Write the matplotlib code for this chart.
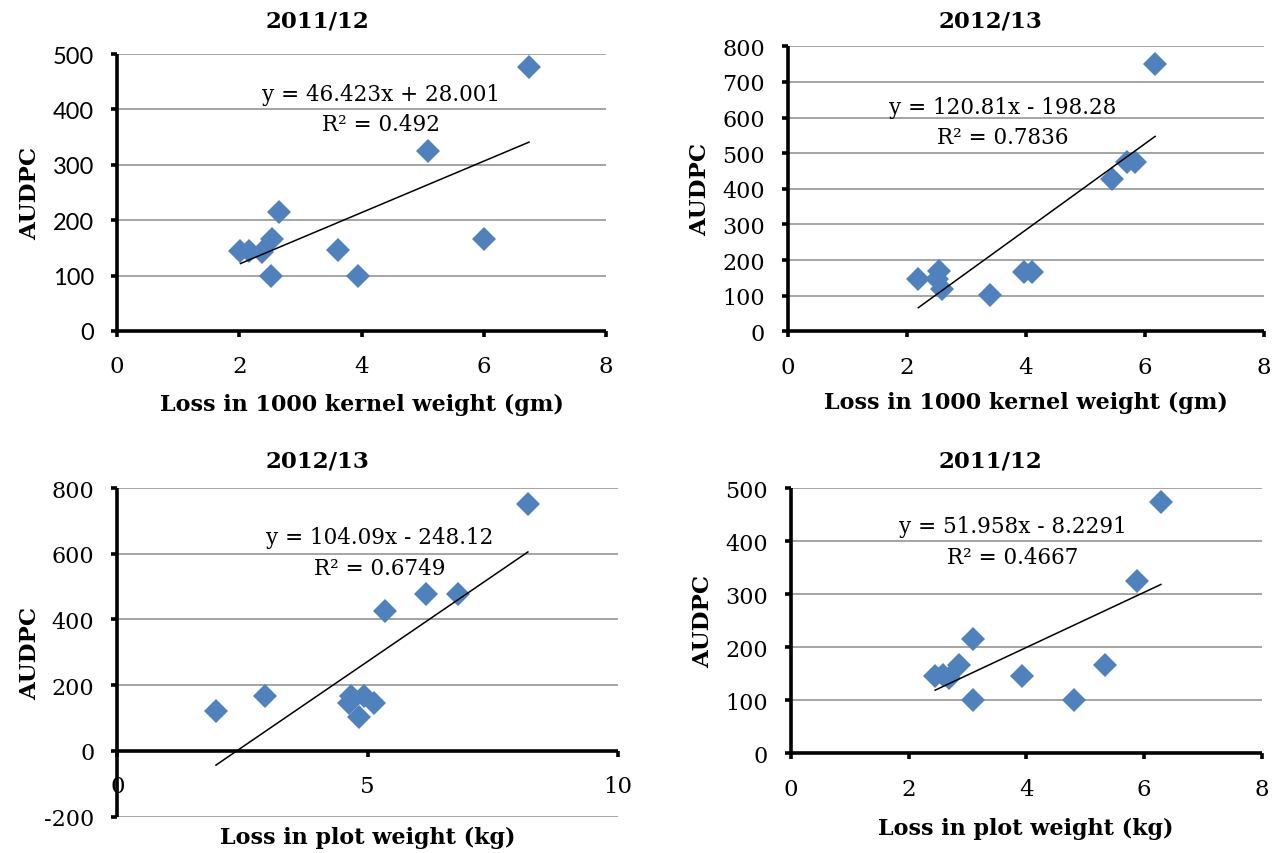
import matplotlib
matplotlib.use("Agg")
import matplotlib.pyplot as plt
import numpy as np

plt.rcParams["axes.unicode_minus"] = False

W, H = 1275, 854

# ---- data ----
titles = ["2011/12", "2012/13", "2012/13", "2011/12"]
xlabels = ["Loss in 1000 kernel weight (gm)", "Loss in 1000 kernel weight (gm)",
           "Loss in plot weight (kg)", "Loss in plot weight (kg)"]
ylabel = "AUDPC"

p1_x = [2.02, 2.16, 2.37, 2.54, 2.65, 2.52, 3.61, 3.94, 5.08, 6.01, 6.74]
p1_y = [145, 145, 143, 166, 215, 100, 146, 100, 325, 166, 476]
p2_x = [2.19, 2.53, 2.50, 2.58, 3.39, 3.97, 4.10, 5.44, 5.69, 5.84, 6.17]
p2_y = [147, 168, 147, 119, 101, 167, 166, 427, 476, 474, 751]
p3_x = [1.97, 2.94, 4.62, 4.67, 4.83, 4.93, 5.12, 5.34, 6.17, 6.81, 8.20]
p3_y = [121, 167, 147, 168, 102, 168, 147, 426, 476, 476, 752]
p4_x = [2.45, 2.59, 2.68, 2.85, 3.09, 3.09, 3.92, 4.82, 5.34, 5.88, 6.29]
p4_y = [146, 148, 143, 167, 216, 100, 146, 100, 166, 326, 475]

slopes = [46.423, 120.81, 104.09, 51.958]
intercepts = [28.001, -198.28, -248.12, -8.2291]
eq_texts = ["y = 46.423x + 28.001", "y = 120.81x - 198.28",
            "y = 104.09x - 248.12", "y = 51.958x - 8.2291"]
r2_texts = ["R² = 0.492", "R² = 0.7836", "R² = 0.6749", "R² = 0.4667"]

xlims = [(0, 8), (0, 8), (0, 10), (0, 8)]
xticks = [[0, 2, 4, 6, 8], [0, 2, 4, 6, 8], [0, 5, 10], [0, 2, 4, 6, 8]]
ylims = [(0, 500), (0, 800), (-200, 800), (0, 500)]
yticks = [list(range(0, 501, 100)), list(range(0, 801, 100)),
          list(range(-200, 801, 200)), list(range(0, 501, 100))]

# ---- layout (pixel boxes: left, right, top, bottom) ----
boxes = [(117, 606, 55, 332), (788, 1264, 47.3, 332.3),
         (117.3, 618, 489, 817.7), (791, 1261.5, 489.3, 754.3)]
title_pos = [(317, 22), (990, 21), (317, 462), (990, 462)]
xlabel_y = [405, 403, 838, 829]
ylabel_x = [30, 700, 30, 703]
eq_pos = [(381, 95), (1003, 108), (380, 538), (1013, 527)]
r2_pos = [(381, 125), (1003, 138), (380, 569), (1013, 558)]

SERIF = "DejaVu Serif"
BLUE = "#4F81BD"
GRID = "#8c8c8c"

fig = plt.figure(figsize=(W / 100, H / 100), dpi=100)
fig.patch.set_facecolor("white")

xs_all = [p1_x, p2_x, p3_x, p4_x]
ys_all = [p1_y, p2_y, p3_y, p4_y]

for i in range(4):
    l, r, t, b = boxes[i]
    ax = fig.add_axes([l / W, 1 - b / H, (r - l) / W, (b - t) / H])
    ax.set_xlim(*xlims[i])
    ax.set_ylim(*ylims[i])
    ax.set_xticks(xticks[i])
    ax.set_yticks(yticks[i])
    for s in ["top", "right"]:
        ax.spines[s].set_visible(False)
    for s in ["left", "bottom"]:
        ax.spines[s].set_linewidth(2.6)
        ax.spines[s].set_color("black")
        ax.spines[s].set_capstyle("butt")
    if i == 2:
        ax.spines["bottom"].set_position(("data", 0))
    ax.yaxis.grid(True, color=GRID, linewidth=1.1)
    ax.set_axisbelow(True)
    ax.tick_params(axis="both", direction="out", length=4.5, width=2.6, color="black")
    ax.tick_params(axis="x", pad=13, labelsize=16.5)
    ax.tick_params(axis="y", pad=12, labelsize=16)
    for lab in ax.get_xticklabels():
        lab.set_fontfamily(SERIF)
    for lab in ax.get_yticklabels():
        if i == 0:
            lab.set_fontfamily("Lato")
            lab.set_fontsize(17)
        else:
            lab.set_fontfamily(SERIF)

    xs = np.array(xs_all[i])
    ys = np.array(ys_all[i])
    ax.plot(xs, ys, linestyle="none", marker="D", markersize=12,
            markerfacecolor=BLUE, markeredgewidth=0, clip_on=False, zorder=3)
    xx = np.array([xs.min(), xs.max()])
    ax.plot(xx, slopes[i] * xx + intercepts[i], color="black", lw=1.1,
            zorder=4, clip_on=False)

    # texts
    tx, ty = title_pos[i]
    fig.text(tx / W, 1 - ty / H, titles[i], ha="center", va="center",
             fontfamily=SERIF, fontweight="bold", fontsize=16.5)
    fig.text((l + r) / 2 / W, 1 - xlabel_y[i] / H, xlabels[i], ha="center",
             va="center", fontfamily=SERIF, fontweight="bold", fontsize=16)
    fig.text(ylabel_x[i] / W, 1 - (t + b) / 2 / H, ylabel, ha="center",
             va="center", rotation=90, fontfamily=SERIF, fontweight="bold",
             fontsize=16.5)
    ex, ey = eq_pos[i]
    fig.text(ex / W, 1 - ey / H, eq_texts[i], ha="center", va="center",
             fontfamily=SERIF, fontsize=15.5)
    rx, ry = r2_pos[i]
    fig.text(rx / W, 1 - ry / H, r2_texts[i], ha="center", va="center",
             fontfamily=SERIF, fontsize=15.5)

fig.savefig("out.png", dpi=100)
